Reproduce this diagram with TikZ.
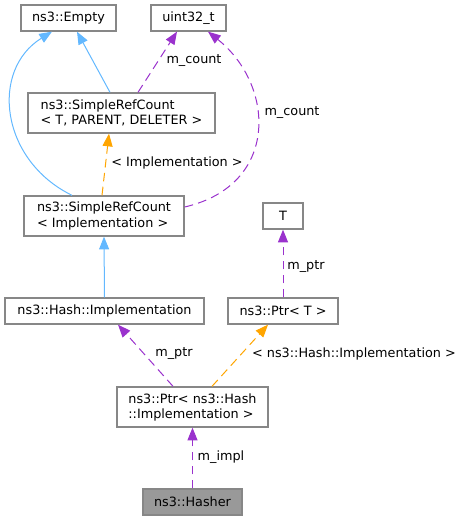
\documentclass[tikz,border=0pt]{standalone}
\usepackage{fontspec}
\setmainfont{DejaVu Sans}
\usetikzlibrary{arrows.meta}
\definecolor{SteelBlue}{HTML}{63B8FF}
\definecolor{DarkOrchid}{HTML}{9A32CD}
\definecolor{OrangeTpl}{HTML}{FFA500}
\definecolor{BoxGray}{HTML}{878787}
\definecolor{FillGray}{HTML}{999999}

\begin{document}
\begin{tikzpicture}[x=0.75pt,y=0.75pt,yscale=-1,xscale=1,
	box/.style={draw=BoxGray, line width=1pt, fill=white, inner sep=0pt, align=left, minimum height=19.5pt, font=\fontsize{9.6}{11.3}\selectfont},
	lbl/.style={inner sep=0.75pt, font=\fontsize{9.6}{11.3}\selectfont},
	inherit/.style={draw=SteelBlue, line width=0.75pt, -{Triangle[length=9.5pt,width=7.5pt]}},
	usage/.style={draw=DarkOrchid, line width=0.75pt, dash pattern=on 6.5pt off 4pt, -{Triangle[length=9.5pt,width=7.5pt,fill=DarkOrchid]}},
	tmpl/.style={draw=OrangeTpl, line width=0.75pt, dash pattern=on 6.5pt off 4pt, -{Triangle[length=9.5pt,width=7.5pt,fill=OrangeTpl]}}]
		% Set diagram size to the reference, 463 x 520
		\useasboundingbox (0,0) rectangle (463,520);

		% The boxes of the classes
		\node[box, minimum width=71.25pt] (empty) at (68.5,18) {ns3::Empty};
		\node[box, minimum width=56.25pt] (uint) at (188.5,18) {uint32\_t};
		\node[box, minimum width=140.25pt, minimum height=30pt] (srcT) at (121.5,113) {ns3::SimpleRefCount\\< T, PARENT, DELETER >};
		\node[box, minimum width=120pt, minimum height=30pt] (srcI) at (104,216) {ns3::SimpleRefCount\\< Implementation >};
		\node[box, minimum width=30pt] (T) at (283,216) {T};
		\node[box, minimum width=149.25pt] (hashImpl) at (104.5,311) {ns3::Hash::Implementation};
		\node[box, minimum width=82.5pt] (ptrT) at (283,311) {ns3::Ptr< T >};
		\node[box, minimum width=113.25pt, minimum height=30pt] (ptrImpl) at (192.5,407) {ns3::Ptr< ns3::Hash\\::Implementation >};
		\node[box, fill=FillGray, minimum width=74.25pt] (hasher) at (192.5,502) {ns3::Hasher};

		% The inheritance arrows in blue
		\draw[inherit] (110,0 |- srcT.north) -- (77,0 |- empty.south);
		\draw[inherit] (72,0 |- srcI.north) .. controls (0,160) and (-10,70) .. (52,0 |- empty.south);
		\draw[inherit] (hashImpl.north) -- (srcI.south);

		% The member arrows (dashed) in purple
		\draw[usage] (138,0 |- srcT.north) -- (177,0 |- uint.south);
		\draw[usage] (srcI.east |- 0,207) .. controls (280,185) and (275,85) .. (208,0 |- uint.south);
		\draw[usage] (ptrT.north) -- (T.south);
		\draw[usage] (173,0 |- ptrImpl.north) -- (118,0 |- hashImpl.south);
		\draw[usage] (hasher.north) -- (ptrImpl.south);

		% The template arrows (dashed) in orange
		\draw[tmpl] (102,0 |- srcI.north) -- (109,0 |- srcT.south);
		\draw[tmpl] (212,0 |- ptrImpl.north) -- (268,0 |- ptrT.south);

		% The labels of the arrows
		\node[lbl] (countA) at (194,61) {m\_count};
		\node[lbl] (countB) at (292,113) {m\_count};
		\node[lbl] (implArg) at (177,163) {< Implementation >};
		\node[lbl] (ptrA) at (306,267) {m\_ptr};
		\node[lbl] (ptrB) at (174,354) {m\_ptr};
		\node[lbl] (hashArg) at (354,354) {< ns3::Hash::Implementation >};
		\node[lbl] (implB) at (221,457) {m\_impl};
	\end{tikzpicture}
\end{document}
